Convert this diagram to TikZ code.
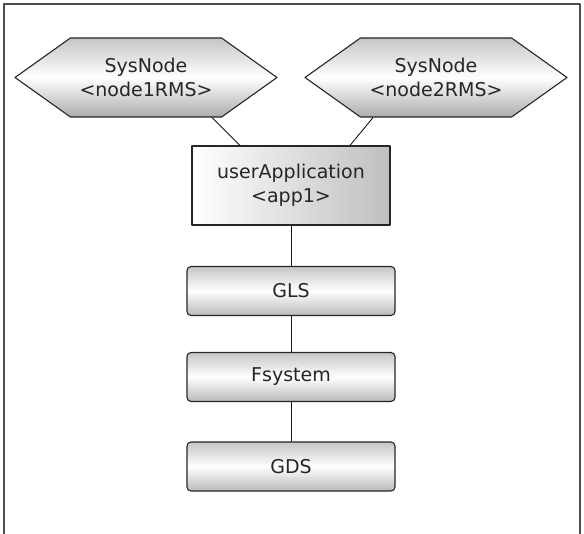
\documentclass[tikz,border=0pt]{standalone}
\usepackage{fontspec}
\setmainfont{DejaVu Sans}
\usetikzlibrary{shapes.symbols}
\begin{document}
\begin{tikzpicture}[x=1pt,y=1pt, line join=round, line cap=round,
    lbl/.style={font=\fontsize{19}{24}\selectfont, align=center, text=black!85},
    sysnode/.style={lbl, signal, signal to=east and west, signal pointer angle=71,
        draw=black!85, line width=1.1pt, minimum width=262pt, minimum height=79pt,
        inner sep=0pt, top color=gray!45, bottom color=gray!65, middle color=white},
    appbox/.style={lbl, rectangle, draw=black!85, line width=1.1pt,
        minimum width=198pt, minimum height=79pt, left color=white, right color=gray!50},
    resbox/.style={lbl, rectangle, rounded corners=4pt, draw=black!85, line width=1.1pt,
        minimum width=208pt, minimum height=49pt,
        top color=gray!45, bottom color=gray!55, middle color=white},
    link/.style={draw=black!90, line width=0.9pt}]
    \useasboundingbox (0,0) rectangle (584,-534);
    \def\cx{291}
    % frame
    \draw[gray!60!black, line width=1.4pt] (4,-534) -- (4,-4) -- (580,-4) -- (580,-534);
    % nodes
    \node[sysnode] (node1) at (146,-77.5) {SysNode\\<node1RMS>};
    \node[sysnode] (node2) at (436,-77.5) {SysNode\\<node2RMS>};
    \node[appbox]  (app)   at (\cx,-185.5) {userApplication\\<app1>};
    \node[resbox]  (gls)   at (\cx,-291)   {GLS};
    \node[resbox]  (fsys)  at (\cx,-377)   {Fsystem};
    \node[resbox]  (gds)   at (\cx,-466.5) {GDS};
    % links
    \draw[link] ([xshift=66pt]node1.south) -- ([xshift=-51pt]app.north);
    \draw[link] ([xshift=-63pt]node2.south) -- ([xshift=59pt]app.north);
    \draw[link] (app) -- (gls);
    \draw[link] (gls) -- (fsys);
    \draw[link] (fsys) -- (gds);
\end{tikzpicture}
\end{document}
